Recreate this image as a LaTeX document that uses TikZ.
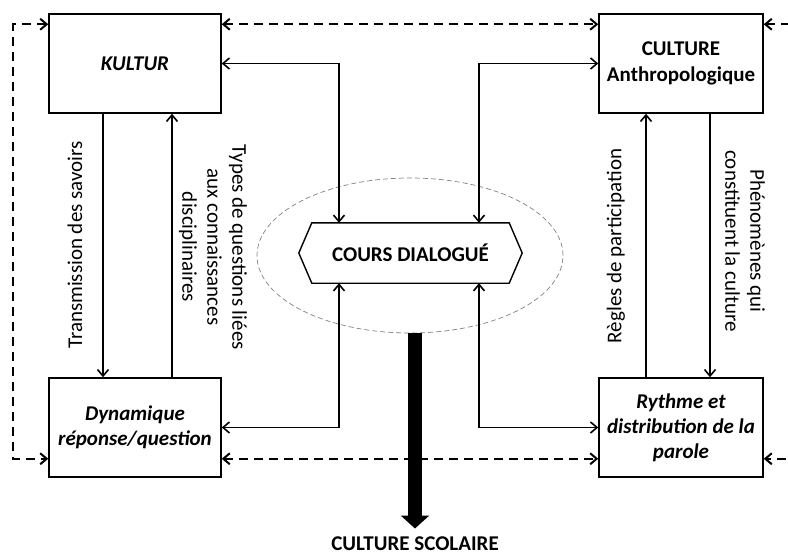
\documentclass[tikz,border=0pt]{standalone}
\usepackage{fontspec}
\setmainfont{Carlito}
\usetikzlibrary{positioning, arrows.meta, shapes.geometric}

\begin{document}
\begin{tikzpicture}[x=1pt, y=-1pt, >={Straight Barb[length=6.5pt,width=11pt]},
    font=\fontsize{21}{25}\selectfont,
    box/.style={draw, line width=1.5pt, minimum width=172pt, minimum height=99pt,
        align=center, inner sep=2pt, font=\fontsize{21}{25}\selectfont\bfseries\itshape},
    link/.style={line width=1.6pt},
    dash link/.style={line width=2pt, dash pattern=on 9pt off 6pt},
    lbl/.style={align=center, inner sep=0pt}]
    \clip (0,0) rectangle (788,555);

    % the four boxes
    \node[box] (kultur) at (135,63.5) {KULTUR};
    \node[box, minimum width=164pt, font=\fontsize{21}{26}\selectfont\bfseries] (anthro) [right of=kultur, node distance=546pt] {CULTURE\\Anthropologique};
    \node[box] (dyn) [below of=kultur, node distance=364pt] {Dynamique\\réponse/question};
    \node[box, minimum width=164pt] (ryt) [right of=dyn, node distance=546pt] {Rythme et\\distribution de la\\parole};

    % dialogue in the middle
    \node[ellipse, draw=gray, line width=0.7pt, dash pattern=on 5pt off 3pt, minimum width=306pt, minimum height=155pt] (ell) at (410,255.5) {};
    \node[minimum width=197pt, minimum height=60pt, font=\fontsize{21}{25}\selectfont\bfseries] (cours) at (410.5,253) {COURS DIALOGUÉ};
    \draw[line width=1.4pt, fill=white] (cours.north west) -- (cours.north east) -- ([xshift=13pt]cours.east) -- (cours.south east)
        -- (cours.south west) -- ([xshift=-13pt]cours.west) -- cycle;
    \node[font=\fontsize{21}{25}\selectfont\bfseries] at (cours) {COURS DIALOGUÉ};

    % dashed links round the boxes
    \draw[dash link, <->] ([yshift=-11pt]kultur.north east) -- ([yshift=-11pt]anthro.north west);
    \draw[dash link, <->] ([yshift=19pt]dyn.south east) -- ([yshift=19pt]ryt.south west);
    \draw[dash link, <->] ([yshift=-11pt]kultur.north west) -- ++(-35,0) |- ([yshift=19pt]dyn.south west);
    \draw[dash link, <->] ([yshift=-11pt]anthro.north east) -- ++(35,0) |- ([yshift=19pt]ryt.south east);

    % links to the dialogue
    \draw[link, <->] (kultur.east) -| ([xshift=-71.5pt]cours.north);
    \draw[link, <->] (anthro.west) -| ([xshift=68.5pt]cours.north);
    \draw[link, <->] (dyn.east) -| ([xshift=-71.5pt]cours.south);
    \draw[link, <->] (ryt.west) -| ([xshift=68.5pt]cours.south);

    % vertical links and their labels
    \draw[link, ->] ([xshift=-32pt]kultur.south) -- ([xshift=-32pt]dyn.north);
    \draw[link, ->] ([xshift=37pt]dyn.north) -- ([xshift=37pt]kultur.south);
    \draw[link, ->] ([xshift=-35pt]ryt.north) -- ([xshift=-35pt]anthro.south);
    \draw[link, ->] ([xshift=29pt]anthro.south) -- ([xshift=29pt]ryt.north);
    \node[lbl, rotate=90] (trans) at (75,245) {Transmission des savoirs};
    \node[lbl, rotate=-90] (types) at (213,247) {Types de questions liées\\aux connaissances\\disciplinaires};
    \node[lbl, rotate=90] (regles) at (616,246) {Règles de participation};
    \node[lbl, rotate=-90] (phen) at (745,241) {Phénomènes qui\\constituent la culture};

    % outcome
    \node[font=\fontsize{21}{25}\selectfont\bfseries] (scol) at (415,544) {CULTURE SCOLAIRE};
    \draw[line width=14pt, -{Triangle[length=13pt,width=28pt]}, shorten >=5pt] (scol |- ell.south) -- (scol.north);
\end{tikzpicture}
\end{document}
